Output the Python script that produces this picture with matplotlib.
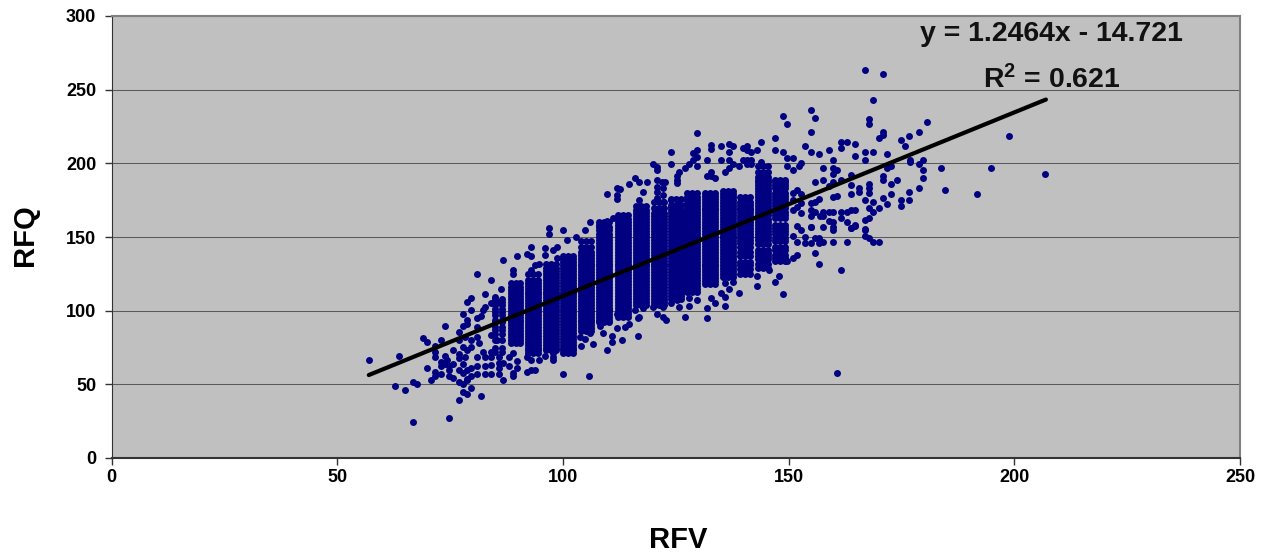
"""
RFQ vs RFV scatter with linear trendline, Excel style grey plot area.
"""
import matplotlib
matplotlib.use('Agg')
import matplotlib.pyplot as plt

# ---- Data ----
# dense vertical bands: the RFV values of a band share one list of RFQ readings
band_rfv = [
    [85, 86.4],
    [88.4, 89.5, 90.6],
    [92.3, 93.4, 94.5],
    [96.2, 97.3, 98.4],
    [100.1, 101.2, 102.3],
    [104.1, 105.2, 106.3],
    [108.1, 109.2, 110.3],
    [112.2, 113.3, 114.4],
    [116.2, 117.3, 118.4],
    [120.2, 121.3, 122.4],
    [123.9, 125, 126.1],
    [127.6, 128.7, 129.8],
    [131.4, 132.5, 133.6],
    [135.4, 136.5, 137.6],
    [139.3, 140.4, 141.5],
    [143.3, 144.4, 145.5],
    [146.9, 148, 149.1],
]
band_rfq = [
    [72, 75, 80, 84, 87, 89, 92, 94, 97, 99, 101, 104, 106, 108],
    [78, 80, 82, 84, 86, 88, 90, 92, 94, 96, 98, 100, 102, 104, 106, 108, 110, 112, 114, 116, 119],
    [71, 73, 75, 77, 79, 81, 83, 85, 87, 89, 91, 93, 95, 97, 99, 101, 103, 105, 107, 109, 111, 113,
     115, 117, 119, 121, 125],
    [73, 75, 77, 79, 81, 83, 85, 87, 89, 91, 93, 95, 97, 99, 101, 103, 105, 107, 109, 111, 113, 115,
     117, 119, 121, 123, 125, 127, 129, 132],
    [71, 73, 75, 77, 79, 81, 83, 85, 87, 89, 91, 93, 95, 97, 99, 101, 103, 105, 107, 109, 111, 113,
     115, 117, 119, 121, 123, 125, 127, 129, 131, 133, 135, 137],
    [86, 88, 90, 92, 94, 96, 98, 100, 102, 104, 106, 108, 110, 112, 114, 116, 118, 120, 122, 124,
     126, 128, 130, 132, 134, 136, 138, 140, 143, 147],
    [92, 94, 96, 98, 100, 102, 104, 106, 108, 110, 112, 114, 116, 118, 120, 122, 124, 126, 128, 130,
     132, 134, 136, 138, 140, 142, 144, 146, 148, 150, 152, 155, 157, 160],
    [96, 98, 100, 102, 104, 106, 108, 110, 112, 114, 116, 118, 120, 122, 124, 126, 128, 130, 132,
     134, 136, 138, 140, 142, 144, 146, 148, 150, 152, 154, 156, 158, 160, 162, 165],
    [104, 106, 108, 110, 112, 114, 116, 118, 120, 122, 124, 126, 128, 130, 132, 134, 136, 138, 140,
     142, 144, 146, 148, 150, 152, 154, 156, 158, 160, 162, 164, 166, 168, 171],
    [104, 106, 108, 110, 112, 114, 116, 118, 120, 122, 124, 126, 128, 130, 132, 134, 136, 138, 140,
     142, 144, 146, 148, 150, 152, 154, 156, 158, 160, 162, 164, 166, 170, 174],
    [108, 110, 112, 114, 116, 118, 120, 122, 124, 126, 128, 130, 132, 134, 136, 138, 140, 142, 144,
     146, 148, 150, 152, 154, 156, 158, 160, 162, 164, 166, 168, 172, 176],
    [113, 115, 117, 119, 121, 123, 125, 127, 129, 131, 133, 135, 137, 139, 141, 143, 145, 147, 149,
     151, 153, 155, 157, 159, 161, 163, 165, 167, 169, 171, 173, 175, 177, 180],
    [118, 120, 122, 124, 126, 128, 130, 132, 134, 136, 138, 140, 142, 144, 146, 148, 150, 152, 154,
     156, 158, 160, 162, 164, 166, 168, 170, 172, 174, 176, 178, 180],
    [123, 125, 127, 129, 131, 133, 135, 137, 139, 141, 143, 145, 147, 149, 151, 153, 155, 157, 159,
     161, 163, 165, 167, 169, 171, 173, 175, 177, 179, 181],
    [125, 128, 131, 133, 137, 140, 143, 146, 148, 150, 152, 154, 156, 158, 160, 162, 164, 166, 168,
     170, 172, 174, 177],
    [129, 132, 135, 137, 139, 141, 145, 148, 150, 152, 154, 156, 158, 160, 162, 165, 167, 169, 171,
     173, 175, 177, 179, 181, 183, 185, 187, 189, 191, 194, 198],
    [134, 136, 138, 141, 143, 147, 149, 152, 154, 156, 158, 163, 165, 167, 170, 172, 174, 176, 178,
     180, 183, 185, 187, 189],
]

# scattered readings around the bands
scatter_rfv = [
    57.1, 63.7, 62.9, 65.1, 66.8, 67.7, 66.8, 74.8, 69, 70, 73, 73.9, 71.7, 71.7, 71.7, 70,
    71.7, 71.7, 70.8, 73, 73, 73, 73.9, 74.4, 73.9, 74.8, 75.7, 74.8, 74.8, 75.7, 75.7,
    77, 77, 78.4, 77.9, 77, 77.9, 77, 77.9, 78.8, 79.7, 77.9, 78.8, 77, 81.9,
    77, 77.9, 78.8, 77.9, 78.8, 77, 78.4, 77.9, 79.7, 79.7, 78.8, 81, 84.1, 82.8, 79.7, 79.7,
    78.8, 78.8, 79.7, 79.7, 78.8,
    81, 81, 82.3, 81.9, 82.8, 81, 81.5, 82.3, 81, 82.8, 81, 82.8, 81, 82.8, 84.1, 84.1, 84.1,
    84.1, 85.9, 85.9, 86.8, 85.9, 85.9, 86.8, 88.1, 89.9, 89, 89, 92.1, 93, 93.9, 100, 105.8,
    89.9, 88.1, 89, 92.1, 93, 94.7, 96.1, 97.9, 97.9, 84.1, 85.3,
    86.3, 86.8, 89.9, 89, 89, 92.1, 93, 93, 94.7, 93.9, 93, 85, 84.1, 85.9, 96.1, 97.9, 98.7,
    98.7, 96.1, 97, 97, 101, 103, 100, 105, 106, 108, 111, 109.8,
    106.7, 109.8, 113, 110.8, 110.8, 108.2, 108.9, 111.9, 113.7, 114.7, 116.7, 116.7,
    104.1, 101.9, 101.9, 103.8, 104.9, 106, 100.8, 97.9,
    116.9, 117.8, 116, 113.8, 112, 110.3, 120, 120.9, 122.2, 122.2, 122.8, 124, 125.8, 125.3,
    127, 128, 128, 129.8, 132, 132, 132.9, 133.7, 136, 136, 135, 136.8, 139, 136, 137.7,
    143, 143, 147, 147.9, 145.7,
    129.8, 124, 124, 120, 120.9, 120.9, 129.8, 128.9, 129.8, 128.9, 128, 127, 129.8, 125.8,
    125.3, 125.3, 125.3, 116, 114.7, 116.9, 118.7, 112.6, 112, 112, 112, 109.8, 117.8, 116.9,
    120.9, 120.9, 120.9, 120.9, 121.9, 122.7, 122.2, 122.2, 122.2, 124, 125.8, 124,
    132, 132.9, 132.9, 135, 136.8, 137.7, 135, 136.8, 136.8, 137.7, 136, 136.8, 132, 132.9,
    133.7, 132.9,
    140, 140.8, 140.8, 141.7, 143, 143.9, 140, 140.8, 141.7, 141.7, 143.9, 139, 140.8,
    147, 147, 148.8, 149.7, 148.8, 149.7, 151, 149.7, 151, 152.3, 152.8,
    167, 171, 168.7, 155, 155.9, 167.9, 167.9, 180.7, 155, 171, 171, 170, 178.9, 176.7, 175,
    175.8, 198.9, 153.7, 161.7, 163, 164.8, 161.7, 159, 155, 156.8, 167, 168.7, 171.8, 164.8,
    167, 159.9, 176.9, 176.9, 179.8, 178.9, 183.8, 194.9, 179.8, 206.8, 171.8, 172.7, 157.7,
    159.9, 160.8, 159.9, 163.9, 171, 171, 174.1, 172.7, 179.8, 155.9, 157.7, 161.7, 159.9,
    159, 163.9, 165.6, 167.9, 167.9, 167.9, 184.7, 191.8, 178.9, 176.7, 172.7, 163.9, 165.6,
    159.9, 160.8, 171, 167, 168.7, 175, 176.7, 171.8, 175, 170, 167.9, 168.7, 167.9, 167,
    164.8, 163.9, 163, 161.7, 161.7, 163, 164.8, 163.9, 167, 156.8, 155.9, 155, 155, 155.9,
    157.7, 159, 159.9, 155, 157, 157.7, 159, 157.7, 159.9, 159.9, 155,
    167, 167, 167.9, 168.7, 170, 163, 164.8, 163.9, 155, 152.8, 151, 151.9, 153.7, 153.7, 155,
    155.9, 156.8, 156.8, 157.7, 159.9, 159.9, 155.9, 156.8, 161.7, 148.8, 151, 151.9, 149.7,
    151.9, 152.8, 151.9, 152.8, 151.9, 152.8, 151, 151, 151, 160.7,
]
scatter_rfq = [
    66.5, 69.2, 49, 46.2, 51.6, 50.2, 24.7, 27.4, 81.5, 78.8, 80, 89.6, 76, 72, 68.3, 61,
    58.4, 55.7, 53, 57, 65.2, 62.5, 69.2, 66.5, 63.8, 62.5, 63.8, 59.7, 55.7, 54.3, 73.3,
    70.6, 68, 68.3, 63.8, 59.7, 57.5, 51.6, 50.2, 53, 47.5, 44.8, 43.5, 39.4, 42.1,
    85.8, 89.6, 91, 97.8, 93.7, 80, 82.4, 75.6, 100.5, 108.6, 106, 125, 120.8, 111.3, 75.6, 80,
    73.3, 59.7, 60.9, 55.7, 53.9,
    94.8, 88.7, 100.5, 96.4, 102.7, 82.4, 77.8, 72.2, 68.8, 68.8, 62.5, 62.5, 57, 57, 57, 63.1, 68.8,
    72.2, 68.8, 64.3, 64.3, 61, 57, 53, 62.5, 61, 57.5, 55.7, 58.4, 59.7, 59.7, 57, 55.7,
    65.6, 68.8, 71, 68.8, 66.5, 66.5, 69.2, 68.8, 66.5, 83.5, 80,
    115, 134.4, 137, 127.6, 125, 138.5, 137, 143, 132, 131, 127.6, 109.5, 105, 106, 142.3, 141.2, 143,
    135.6, 137.8, 156, 152, 148, 150, 155, 155, 160, 158, 163, 161,
    77.4, 73.3, 80, 79, 82.8, 89.6, 84.6, 88, 88.7, 91, 82.8, 94.8,
    76, 73.3, 80, 82.4, 80.6, 84.6, 81.2, 71,
    95.5, 101.6, 100.4, 99, 98, 100.4, 102.7, 98, 102.7, 96, 93.6, 105, 102.7, 107.2,
    95.5, 108.4, 103, 107.2, 101.6, 94.8, 108.4, 105, 109, 103.4, 111.7, 114.5, 111.7, 118.5, 119.7,
    116.7, 123.7, 119.7, 123.7, 127.6,
    220.4, 207.7, 199.6, 199.6, 197.7, 195.5, 209, 206.8, 204.5, 202.3, 199.6, 196.8, 198, 194.3,
    191.4, 188.7, 186.4, 190, 186, 187.6, 187.6, 182.4, 183, 178.5, 176, 179.2, 180.5, 175,
    188.7, 183.7, 180.8, 176.2, 187.6, 187.6, 183, 178.5, 174, 175, 175, 170.6,
    202, 212.4, 210, 212, 213.4, 212, 202.3, 208, 202.3, 199.6, 194.3, 196.6, 191.4, 194.3,
    190.3, 191.4,
    210.6, 212, 209, 207.7, 209, 214.7, 202.3, 202.3, 202.3, 199.6, 201, 198, 199.6,
    217.4, 209, 232, 226.7, 207.7, 203.6, 203.6, 198, 195.5, 198, 200,
    263.4, 260.9, 243, 236, 231, 230, 226.7, 228, 221.3, 221, 219, 217, 221.3, 218.6, 216,
    212, 218.6, 212, 214.7, 214.7, 213, 210.6, 209, 207.7, 206.3, 207.7, 207.7, 206.3, 205,
    202, 202, 202, 200.9, 202, 199.5, 196.8, 196.8, 195.5, 193, 196.8, 198, 196.8,
    196.8, 195.5, 193, 191.9, 191.6, 188.7, 188.7, 186, 190, 187.3, 188.7, 188.7, 187.3,
    184.6, 185, 183, 186, 183, 179.6, 182, 179.2, 183.3, 180.5, 179, 179, 180.5,
    177, 178, 176.5, 175, 173.8, 175, 175, 172.4, 171, 169.7, 169.7, 167, 163, 161.5,
    168.3, 168.3, 167, 167, 163, 160.4, 157.5, 156, 155.4, 176, 174, 173, 168, 167,
    167, 167, 167, 164, 164, 164, 161, 157, 160, 157, 157,
    154.7, 150.7, 149.3, 146.6, 146.6, 146.6, 158, 156, 157, 154.7, 150.7, 146.8, 150, 145.7, 145.7,
    149.3, 149.3, 145.7, 146.8, 146.8, 154.7, 139, 131.7, 127.6, 111.3, 136, 137.5, 133.5,
    157.5, 173, 170.6, 166, 182, 179, 179.6, 175, 168, 58,
]

# trendline ends, y = 1.2464x - 14.721
trend_rfv = [57, 207]
trend_rfq = [56.3, 243.3]

x_ticks = [0, 50, 100, 150, 200, 250]
y_ticks = [0, 50, 100, 150, 200, 250, 300]

# ---- Plot ----
plt.rcParams.update({
    'font.family': ['Liberation Sans', 'DejaVu Sans'],
    'font.weight': 'bold',
    'mathtext.fontset': 'custom',
    'mathtext.bf': 'Liberation Sans:bold',
    'mathtext.rm': 'Liberation Sans:bold',
})

fig = plt.figure(figsize=(12.7, 5.56), dpi=100)
ax = fig.add_axes([111.5 / 1270, 1 - 458 / 556, (1240 - 111.5) / 1270, (458 - 16) / 556])
ax.set_facecolor('#C0C0C0')

for xs, ys in zip(band_rfv, band_rfq):
    for x in xs:
        ax.scatter([x] * len(ys), ys, s=25, color='#000080', linewidths=0, zorder=3)
ax.scatter(scatter_rfv, scatter_rfq, s=25, color='#000080', linewidths=0, zorder=3)

ax.plot(trend_rfv, trend_rfq, color='black', linewidth=3, solid_capstyle='round', zorder=4)

ax.set_xlim(0, 250)
ax.set_ylim(0, 300)
ax.set_xticks(x_ticks)
ax.set_yticks(y_ticks)
ax.tick_params(axis='both', labelsize=13, length=5, width=1, color='#333333')
ax.tick_params(axis='y', pad=6)
ax.tick_params(axis='x', pad=3)
ax.grid(True, axis='y', color='#5A5A5A', linewidth=0.75, zorder=1)
ax.set_axisbelow(True)

for side in ['top', 'right']:
    ax.spines[side].set_color('#808080')
    ax.spines[side].set_linewidth(1.5)
ax.spines['left'].set_color('#333333')
ax.spines['bottom'].set_color('#333333')
ax.spines['bottom'].set_linewidth(1.5)

ax.text(208.3, 287.5, 'y = 1.2464x - 14.721', fontsize=20.5, fontweight='bold',
        ha='center', va='center', color='#111111', zorder=5)
ax.text(208.3, 256.5, r'R$\mathbf{^2}$ = 0.621', fontsize=20.5, fontweight='bold',
        ha='center', va='center', color='#111111', zorder=5)

fig.text(25 / 1270, 1 - 235 / 556, 'RFQ', rotation=90, fontsize=21, fontweight='bold',
         ha='center', va='center')
fig.text(678 / 1270, 1 - 540 / 556, 'RFV', fontsize=21, fontweight='bold',
         ha='center', va='center')

fig.savefig('out.png', dpi=100)
plt.close()
